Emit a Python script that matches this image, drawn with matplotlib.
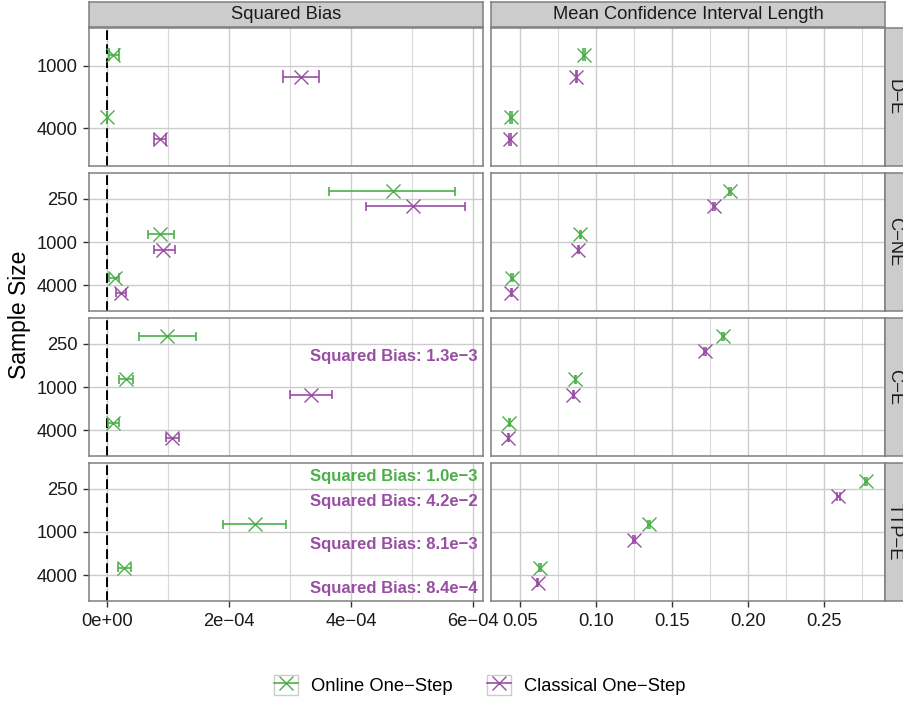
import numpy as np
import matplotlib
matplotlib.use("Agg")
import matplotlib.pyplot as plt
from matplotlib.patches import Rectangle
from matplotlib.lines import Line2D
from matplotlib.legend_handler import HandlerTuple
from matplotlib.ticker import MultipleLocator, FuncFormatter

plt.rcParams["font.family"] = ["Liberation Sans", "DejaVu Sans"]

# data
scenarios = ["D−E", "C−NE", "C−E", "TTP−E"]
samples = [["1000", "4000"],
           ["250", "1000", "4000"],
           ["250", "1000", "4000"],
           ["250", "1000", "4000"]]
methods = ["Online One−Step", "Classical One−Step"]
columns = ["Squared Bias", "Mean Confidence Interval Length"]

nan = np.nan
online_bias = [[1.0e-5, 1e-7], [4.68e-4, 0.874e-4, 0.125e-4],
               [0.99e-4, 0.304e-4, 0.098e-4], [1.0e-3, 2.43e-4, 0.283e-4]]
online_bias_lo = [[0.4e-5, 0.0], [3.64e-4, 0.67e-4, 0.04e-4],
                  [0.517e-4, 0.2e-4, 0.01e-4], [nan, 1.90e-4, 0.18e-4]]
online_bias_hi = [[2.0e-5, 2e-7], [5.70e-4, 1.10e-4, 0.20e-4],
                  [1.46e-4, 0.43e-4, 0.19e-4], [nan, 2.93e-4, 0.40e-4]]

classical_bias = [[3.175e-4, 0.867e-4], [5.02e-4, 0.92e-4, 0.229e-4],
                  [1.3e-3, 3.34e-4, 1.064e-4], [4.2e-2, 8.1e-3, 8.4e-4]]
classical_bias_lo = [[2.88e-4, 0.774e-4], [4.25e-4, 0.774e-4, 0.14e-4],
                     [nan, 3.0e-4, 0.97e-4], [nan, nan, nan]]
classical_bias_hi = [[3.475e-4, 0.966e-4], [5.87e-4, 1.11e-4, 0.316e-4],
                     [nan, 3.69e-4, 1.18e-4], [nan, nan, nan]]

online_ci = [[0.0919, 0.0441], [0.1884, 0.0897, 0.0447],
             [0.1833, 0.0864, 0.0430], [0.2776, 0.1347, 0.0632]]
online_ci_err = [[0.0006, 0.0004], [0.0007, 0.0005, 0.0004],
                 [0.0007, 0.0005, 0.0004], [0.0008, 0.0006, 0.0004]]
classical_ci = [[0.0871, 0.0434], [0.1774, 0.0884, 0.0443],
                [0.1715, 0.0851, 0.0423], [0.2594, 0.1250, 0.0616]]
classical_ci_err = [[0.0006, 0.0004], [0.0007, 0.0005, 0.0004],
                    [0.0007, 0.0005, 0.0004], [0.0008, 0.0006, 0.0004]]

colors = ["#4DAF4A", "#984EA3"]
dodge = [-0.175, 0.175]
label_dodge = [-0.28, 0.3]
cap = 0.1
bias_xlim = (-2.95e-5, 6.16e-4)
ci_xlim = (0.0309, 0.2901)

W, H = 904, 702
fig = plt.figure(figsize=(W / 100, H / 100), dpi=100)


def px_axes(x0, y0, x1, y1):
    return fig.add_axes([x0 / W, 1 - y1 / H, (x1 - x0) / W, (y1 - y0) / H])


def sci(v, pos=None):
    m, e = f"{v:.0e}".split("e")
    return f"{m}e{e}".replace("-", "−")


def short_sci(v):
    m, e = f"{v:.1e}".split("e")
    return f"{m}e−{abs(int(e))}"


def draw(ax, y, x, lo, hi, color):
    y = np.asarray(y); x = np.asarray(x)
    lo = np.asarray(lo); hi = np.asarray(hi)
    ok = ~np.isnan(lo)
    ax.hlines(y[ok], lo[ok], hi[ok], color=color, lw=1.2, zorder=3)
    ax.vlines(lo[ok], y[ok] - cap, y[ok] + cap, color=color, lw=1.2, zorder=3)
    ax.vlines(hi[ok], y[ok] - cap, y[ok] + cap, color=color, lw=1.2, zorder=3)
    ax.plot(x, y, ls="none", marker="x", ms=10, mew=1.0, color=color, zorder=4)


col_x = [(89, 483), (491, 885)]
row_y = [(28, 166), (173, 311), (318, 456), (463, 601)]

bias_sets = [(online_bias, online_bias_lo, online_bias_hi),
             (classical_bias, classical_bias_lo, classical_bias_hi)]
ci_sets = [(online_ci, online_ci_err), (classical_ci, classical_ci_err)]

for r, scen in enumerate(scenarios):
    cats = samples[r]
    pos = np.arange(len(cats))
    for c in range(2):
        ax = px_axes(col_x[c][0], row_y[r][0], col_x[c][1], row_y[r][1])
        ax.set_ylim(len(cats) - 0.4, -0.6)
        ax.set_axisbelow(True)
        if c == 0:
            ax.set_xlim(*bias_xlim)
            ax.xaxis.set_major_locator(MultipleLocator(2e-4))
            ax.xaxis.set_minor_locator(MultipleLocator(1e-4))
            ax.xaxis.set_major_formatter(FuncFormatter(sci))
            ax.axvline(0, color="black", lw=1.4, dashes=(5, 2.2), zorder=2)
            for m in range(2):
                vals, lo, hi = (np.asarray(a[r]) for a in bias_sets[m])
                inside = vals <= bias_xlim[1]
                y = pos + dodge[m]
                draw(ax, y[inside], vals[inside], lo[inside], hi[inside], colors[m])
                for yy, v in zip(pos[~inside] + label_dodge[m], vals[~inside]):
                    ax.text(0.987, yy, f"Squared Bias: {short_sci(v)}",
                            transform=ax.get_yaxis_transform(), ha="right",
                            va="center", fontsize=12, fontweight="bold",
                            color=colors[m])
        else:
            ax.set_xlim(*ci_xlim)
            ax.xaxis.set_major_locator(MultipleLocator(0.05))
            ax.xaxis.set_minor_locator(MultipleLocator(0.025))
            ax.xaxis.set_major_formatter(FuncFormatter(lambda v, p: f"{v:.2f}"))
            for m in range(2):
                vals, err = (np.asarray(a[r]) for a in ci_sets[m])
                draw(ax, pos + dodge[m], vals, vals - err, vals + err, colors[m])

        ax.set_yticks(pos)
        ax.set_yticklabels(cats)
        ax.grid(which="major", color="#CCCCCC", lw=1.0)
        ax.grid(which="minor", axis="x", color="#DADADA", lw=0.8)
        for s in ax.spines.values():
            s.set_color("#7F7F7F")
            s.set_linewidth(1.1)
        ax.tick_params(which="minor", length=0)
        ax.tick_params(which="major", length=4.5, width=1.0, color="#333333",
                       labelsize=13.2, labelcolor="#1A1A1A")
        ax.tick_params(axis="y", pad=3.6)
        ax.tick_params(axis="x", pad=4.5)
        if c == 1:
            ax.tick_params(axis="y", left=False, labelleft=False)
        if r < 3:
            ax.tick_params(axis="x", bottom=False, labelbottom=False)

        # right strips (they run past the image edge, as in the reference)
        if c == 1:
            st = px_axes(885, row_y[r][0], 910, row_y[r][1])
            st.set_facecolor("#CCCCCC")
            st.set_xticks([]); st.set_yticks([])
            for s in st.spines.values():
                s.set_color("#7F7F7F"); s.set_linewidth(1.1)
            fig.text(894.5 / W, 1 - (row_y[r][0] + row_y[r][1]) / 2 / H, scen,
                     rotation=-90, ha="center", va="center", fontsize=13.2,
                     color="#1A1A1A")

# top strips
for c, name in enumerate(columns):
    st = px_axes(col_x[c][0], 2, col_x[c][1], 27)
    st.set_facecolor("#CCCCCC")
    st.set_xticks([]); st.set_yticks([])
    for s in st.spines.values():
        s.set_color("#7F7F7F"); s.set_linewidth(1.1)
    st.text(0.5, 0.5, name, transform=st.transAxes, ha="center", va="center",
            fontsize=13.2, color="#1A1A1A")

fig.text(20 / W, 1 - 314.5 / H, "Sample Size", rotation=90, ha="center",
         va="center", fontsize=16.5)

handles = []
for m in range(2):
    box = Rectangle((0, 0), 1, 1, facecolor="white", edgecolor="#CCCCCC", lw=1.0)
    ln = Line2D([], [], color=colors[m], lw=1.2, marker="x", ms=10, mew=1.0)
    handles.append((box, ln))
fig.legend(handles, methods, loc="center", bbox_to_anchor=(480 / W, 1 - 685 / H),
           ncol=2, frameon=False, fontsize=13.2, handlelength=1.3,
           handleheight=1.3, handletextpad=0.7, columnspacing=1.9, numpoints=1,
           handler_map={tuple: HandlerTuple(ndivide=1)})

fig.savefig("out.png", dpi=100)
